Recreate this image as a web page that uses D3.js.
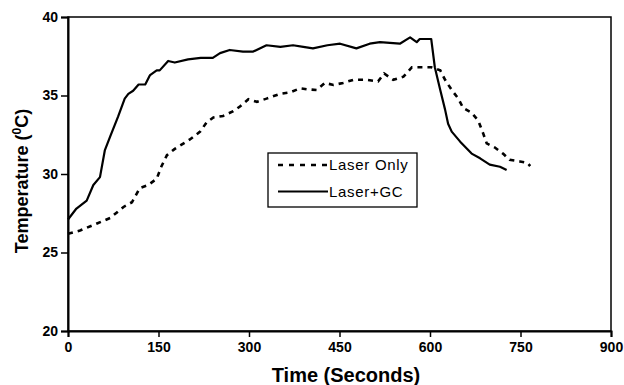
<!DOCTYPE html>
<html>
<head>
<meta charset="utf-8">
<script src="https://cdn.jsdelivr.net/npm/d3@7"></script>
<style>
  body { margin: 0; background: #fff; }
  svg { display: block; font-family: "Liberation Sans", Arial, sans-serif; }
</style>
</head>
<body>
<svg width="624" height="385"></svg>
<script>
// Laser+GC (solid)
const gcTime = [0, 14, 31, 42, 53, 61, 70, 83, 94, 100, 108, 117, 128, 136, 147, 152, 166, 177, 199, 220, 240, 252, 268, 290, 307, 329, 352, 373, 390, 406, 430, 451, 478, 500, 517, 550, 567, 578, 583, 602, 608, 617, 625, 630, 636, 650, 669, 683, 699, 716, 727];
const gcTemp = [27.1, 27.8, 28.3, 29.3, 29.8, 31.5, 32.4, 33.65, 34.8, 35.1, 35.3, 35.7, 35.7, 36.3, 36.6, 36.6, 37.2, 37.1, 37.3, 37.4, 37.4, 37.7, 37.9, 37.8, 37.8, 38.2, 38.1, 38.2, 38.1, 38.0, 38.2, 38.3, 38.0, 38.3, 38.4, 38.3, 38.7, 38.4, 38.6, 38.6, 36.8, 35.35, 34.1, 33.2, 32.7, 32.06, 31.3, 31.0, 30.6, 30.46, 30.25];

// Laser Only (dashed)
const loTime = [0, 20, 48, 70, 92, 106, 119, 133, 147, 155, 164, 177, 202, 219, 230, 241, 257, 274, 285, 299, 313, 329, 351, 368, 385, 396, 412, 426, 440, 456, 473, 495, 514, 524, 539, 556, 570, 602, 617, 625, 636, 647, 655, 669, 680, 688, 694, 707, 721, 732, 749, 762, 766];
const loTemp = [26.2, 26.4, 26.85, 27.2, 27.9, 28.2, 29.1, 29.3, 29.7, 30.5, 31.2, 31.6, 32.2, 32.7, 33.3, 33.6, 33.7, 34.0, 34.3, 34.76, 34.6, 34.8, 35.1, 35.2, 35.46, 35.4, 35.35, 35.8, 35.67, 35.8, 36.0, 36.0, 35.9, 36.4, 36.0, 36.2, 36.8, 36.8, 36.6, 36.0, 35.35, 34.8, 34.2, 33.9, 33.4, 32.6, 31.95, 31.7, 31.3, 30.9, 30.8, 30.7, 30.5];

const xTicks = [0, 150, 300, 450, 600, 750, 900];
const yTicks = [20, 25, 30, 35, 40];
const seriesNames = ["Laser Only", "Laser+GC"];

const svg = d3.select("svg");
const margin = { top: 17, right: 13, bottom: 54, left: 68 };
const width = +svg.attr("width") - margin.left - margin.right;
const height = +svg.attr("height") - margin.top - margin.bottom;

const x = d3.scaleLinear().domain([0, 900]).range([0, width]);
const y = d3.scaleLinear().domain([20, 40]).range([height, 0]);

const g = svg.append("g").attr("transform", `translate(${margin.left},${margin.top})`);

// frame (top/right)
g.append("rect")
    .attr("width", width).attr("height", height)
    .attr("fill", "none").attr("stroke", "#000").attr("stroke-width", 1.5);

// axes
const xAxis = g.append("g")
    .attr("transform", `translate(0,${height})`)
    .call(d3.axisBottom(x).tickValues(xTicks).tickSize(6).tickPadding(5));
const yAxis = g.append("g")
    .call(d3.axisLeft(y).tickValues(yTicks).tickSize(7).tickPadding(3));

[xAxis, yAxis].forEach(a => {
    a.selectAll(".domain").attr("stroke-width", 2);
    a.selectAll(".tick line").attr("stroke-width", 1.5);
    a.selectAll("text")
        .attr("font-size", 14)
        .attr("font-weight", "bold")
        .attr("font-family", "Liberation Sans, Arial, sans-serif")
        .attr("fill", "#000");
});

// lines
const line = (ts, vs) => d3.line()
    .x((_, i) => x(ts[i]))
    .y(d => y(d))(vs);

g.append("path")
    .attr("d", line(loTime, loTemp))
    .attr("fill", "none").attr("stroke", "#000")
    .attr("stroke-width", 2.6)
    .attr("stroke-dasharray", "5,5");

g.append("path")
    .attr("d", line(gcTime, gcTemp))
    .attr("fill", "none").attr("stroke", "#000")
    .attr("stroke-width", 2.2)
    .attr("stroke-linejoin", "round");

// axis titles
svg.append("text")
    .attr("x", 346)
    .attr("y", 382)
    .attr("text-anchor", "middle")
    .attr("font-size", 20).attr("font-weight", "bold")
    .text("Time (Seconds)");

const yt = svg.append("text")
    .attr("transform", `translate(28,181) rotate(-90)`)
    .attr("text-anchor", "middle")
    .attr("font-size", 18).attr("font-weight", "bold");
yt.append("tspan").text("Temperature (");
yt.append("tspan").attr("font-size", 12).attr("dy", -7).text("0");
yt.append("tspan").attr("dy", 7).text("C)");

// legend
const lg = svg.append("g").attr("transform", "translate(268,153)");
lg.append("rect")
    .attr("width", 149).attr("height", 54)
    .attr("fill", "#fff").attr("stroke", "#000").attr("stroke-width", 1.3);
seriesNames.forEach((name, i) => {
    const yy = 12 + i * 26.5;
    lg.append("line")
        .attr("x1", 10).attr("x2", 60).attr("y1", yy).attr("y2", yy)
        .attr("stroke", "#000")
        .attr("stroke-width", i === 0 ? 2.6 : 2.2)
        .attr("stroke-dasharray", i === 0 ? "5,6" : null);
    lg.append("text")
        .attr("x", 61).attr("y", yy + 5)
        .attr("font-size", 15)
        .attr("letter-spacing", 0.7)
        .text(name);
});
</script>
</body>
</html>
